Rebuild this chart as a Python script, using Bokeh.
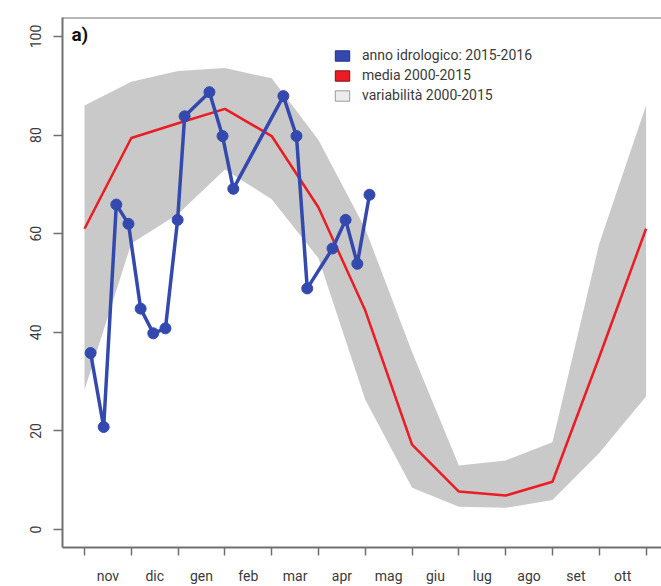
from bokeh.plotting import figure
from bokeh.models import Range1d, FixedTicker, Legend, LegendItem, Label, Span
from bokeh.embed import file_html
from bokeh.resources import INLINE

# ---- data ----
month_labels = ["nov", "dic", "gen", "feb", "mar", "apr", "mag", "giu", "lug", "ago", "set", "ott"]
month_index = list(range(13))          # month boundaries (nov 1 ... oct 31)
mean_2000_2015 = [61, 79.4, 82.4, 85.3, 79.8, 65.3, 44.4, 17.2, 7.7, 6.9, 9.7, 35, 61]
var_low_2000_2015 = [28.3, 58, 64, 73, 67, 55, 26.3, 8.5, 4.6, 4.4, 6, 15.5, 27]
var_high_2000_2015 = [86, 90.8, 93, 93.6, 91.5, 79, 61, 36, 13, 14, 17.7, 58, 86]
obs_x_2015_2016 = [0.13, 0.41, 0.68, 0.94, 1.2, 1.47, 1.73, 1.99, 2.14, 2.67, 2.95, 3.18,
                   4.25, 4.53, 4.76, 5.3, 5.58, 5.83, 6.09]
obs_y_2015_2016 = [35.8, 20.8, 65.9, 62, 44.8, 39.8, 40.8, 62.8, 83.8, 88.7, 79.8, 69.1,
                   87.9, 79.8, 48.9, 57, 62.8, 53.9, 67.9]
y_ticks = [0, 20, 40, 60, 80, 100]
legend_labels = ["anno idrologico: 2015-2016", "media 2000-2015", "variabilità 2000-2015"]

FONT = "Roboto"
TXT = "#3a3a3a"
AX = "#707070"
BLUE = "#3449ad"
RED = "#ec1c24"
BAND = "#c9c9c9"
NAN = float("nan")

y0, y1 = -3.64, 103.84
p = figure(width=661, height=586, output_backend="svg", toolbar_location=None,
           x_range=Range1d(-0.47, 12.33), y_range=Range1d(y0, y1),
           min_border_left=62, min_border_right=0, min_border_top=17, min_border_bottom=37)
p.outline_line_color = None
p.xgrid.visible = False
p.ygrid.visible = False
p.background_fill_color = "white"

# band, mean, observations
p.varea(x=month_index, y1=var_low_2000_2015, y2=var_high_2000_2015, fill_color=BAND)
p.line(month_index, mean_2000_2015, line_color=RED, line_width=2.5)
p.line(obs_x_2015_2016, obs_y_2015_2016, line_color=BLUE, line_width=3.5)
p.scatter(obs_x_2015_2016, obs_y_2015_2016, size=11, fill_color=BLUE, line_color=BLUE)

# x axis: ticks at month boundaries, labels mid-month
xa = p.xaxis[0]
xa.ticker = FixedTicker(ticks=[i + 0.5 for i in range(12)], minor_ticks=month_index)
xa.major_label_overrides = {i + 0.5: m for i, m in enumerate(month_labels)}
xa.major_tick_out = 0
xa.major_tick_in = 0
xa.minor_tick_out = 8
xa.minor_tick_in = 0
xa.minor_tick_line_color = AX
xa.minor_tick_line_width = 1.5
xa.axis_line_color = AX
xa.axis_line_width = 2
xa.major_label_standoff = 12
xa.major_label_text_font = FONT
xa.major_label_text_font_size = "14px"
xa.major_label_text_color = TXT

ya = p.yaxis[0]
ya.ticker = FixedTicker(ticks=y_ticks)
ya.minor_tick_line_color = None
ya.major_tick_out = 9
ya.major_tick_in = 0
ya.major_tick_line_color = AX
ya.major_tick_line_width = 1.5
ya.axis_line_color = AX
ya.axis_line_width = 2
ya.major_label_orientation = "vertical"
ya.major_label_standoff = 12
ya.major_label_text_font = FONT
ya.major_label_text_font_size = "14px"
ya.major_label_text_color = TXT

p.add_layout(Span(location=y1, dimension="width", line_color=AX, line_width=2))

# panel label
p.add_layout(Label(x=-0.28, y=102.8, text="a)", text_font=FONT, text_font_style="bold",
                   text_font_size="19px", text_color="#111", text_baseline="top",
                   text_align="left"))

# legend with square swatches
r_b = p.quad(left=[NAN], right=[NAN], top=[NAN], bottom=[NAN], fill_color=BLUE, line_color="#1f2f80")
r_r = p.quad(left=[NAN], right=[NAN], top=[NAN], bottom=[NAN], fill_color=RED, line_color="#8a0a0e")
r_g = p.quad(left=[NAN], right=[NAN], top=[NAN], bottom=[NAN], fill_color="#ececec", line_color="#9a9a9a")
legend = Legend(items=[LegendItem(label=legend_labels[0], renderers=[r_b]),
                       LegendItem(label=legend_labels[1], renderers=[r_r]),
                       LegendItem(label=legend_labels[2], renderers=[r_g])],
                location=(271, 444), padding=0, margin=0, spacing=4,
                glyph_width=18, glyph_height=13, label_height=15, label_standoff=11,
                label_text_font=FONT, label_text_font_size="14px", label_text_color=TXT,
                background_fill_alpha=0, border_line_color=None)
p.add_layout(legend)

open("out.html", "w").write(file_html(p, INLINE))
